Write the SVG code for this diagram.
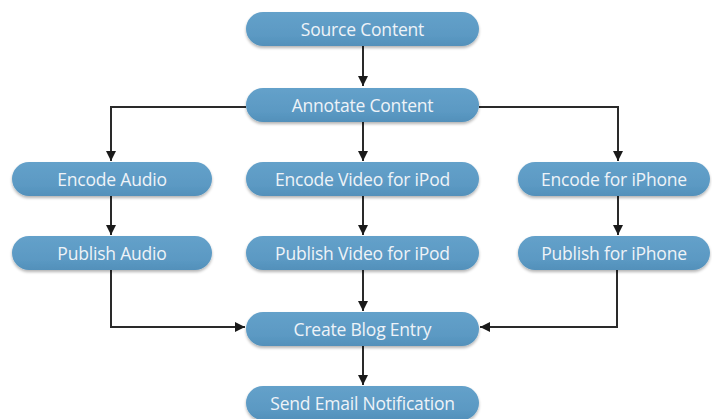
<svg xmlns="http://www.w3.org/2000/svg" width="712" height="419" viewBox="0 0 712 419">
<style>
.box{fill:url(#g);filter:url(#sh)}
.lbl{font-family:"Open Sans","Noto Sans",sans-serif;font-size:17.5px;fill:#eef3f8;text-anchor:middle;dominant-baseline:central;letter-spacing:-0.2px}
.c{fill:none;stroke:#2a2a2a;stroke-width:2;marker-end:url(#ah)}
</style>
<defs>
<linearGradient id="g" x1="0" y1="0" x2="0" y2="1">
<stop offset="0" stop-color="#64a1ca"/>
<stop offset="0.7" stop-color="#5b99c3"/>
<stop offset="1" stop-color="#5290ba"/>
</linearGradient>
<filter id="sh" x="-10%" y="-30%" width="120%" height="170%">
<feGaussianBlur in="SourceAlpha" stdDeviation="1.5"/>
<feOffset dy="1.5" result="b"/>
<feComponentTransfer><feFuncA type="linear" slope="0.3"/></feComponentTransfer>
<feMerge><feMergeNode/><feMergeNode in="SourceGraphic"/></feMerge>
</filter>
<marker id="ah" viewBox="0 0 10 10" refX="10" refY="5" markerWidth="5" markerHeight="5.5" orient="auto" markerUnits="strokeWidth">
<path d="M0,0 L10,5 L0,10 z" fill="#1a1a1a"/>
</marker>
</defs>
<g id="connectors">
<path class="c" d="M363,46 V86"/>
<path class="c" d="M246,107 H111 V161"/>
<path class="c" d="M363,122 V161"/>
<path class="c" d="M479,107 H618 V161"/>
<path class="c" d="M111,196 V235"/>
<path class="c" d="M363,196 V235"/>
<path class="c" d="M618,196 V235"/>
<path class="c" d="M111,270 V327 H245"/>
<path class="c" d="M363,270 V311"/>
<path class="c" d="M617,270 V327 H480"/>
<path class="c" d="M363,346 V385"/>
</g>
<g id="source"><rect class="box" x="246" y="12" width="233" height="34" rx="17"/><text class="lbl" x="362.5" y="29">Source Content</text></g>
<g id="annotate"><rect class="box" x="246" y="88" width="233" height="34" rx="17"/><text class="lbl" x="362.5" y="105">Annotate Content</text></g>
<g id="encode-audio"><rect class="box" x="12" y="162" width="200" height="34" rx="17"/><text class="lbl" x="112" y="179">Encode Audio</text></g>
<g id="encode-video"><rect class="box" x="246" y="162" width="233" height="34" rx="17"/><text class="lbl" x="362.5" y="179">Encode Video for iPod</text></g>
<g id="encode-iphone"><rect class="box" x="518" y="162" width="192" height="34" rx="17"/><text class="lbl" x="614" y="179">Encode for iPhone</text></g>
<g id="publish-audio"><rect class="box" x="12" y="236" width="200" height="34" rx="17"/><text class="lbl" x="112" y="253">Publish Audio</text></g>
<g id="publish-video"><rect class="box" x="246" y="236" width="233" height="34" rx="17"/><text class="lbl" x="362.5" y="253">Publish Video for iPod</text></g>
<g id="publish-iphone"><rect class="box" x="518" y="236" width="192" height="34" rx="17"/><text class="lbl" x="614" y="253">Publish for iPhone</text></g>
<g id="create-blog"><rect class="box" x="246" y="312" width="233" height="34" rx="17"/><text class="lbl" x="362.5" y="329">Create Blog Entry</text></g>
<g id="send-email"><rect class="box" x="246" y="386" width="233" height="34" rx="17"/><text class="lbl" x="362.5" y="403">Send Email Notification</text></g>
</svg>
